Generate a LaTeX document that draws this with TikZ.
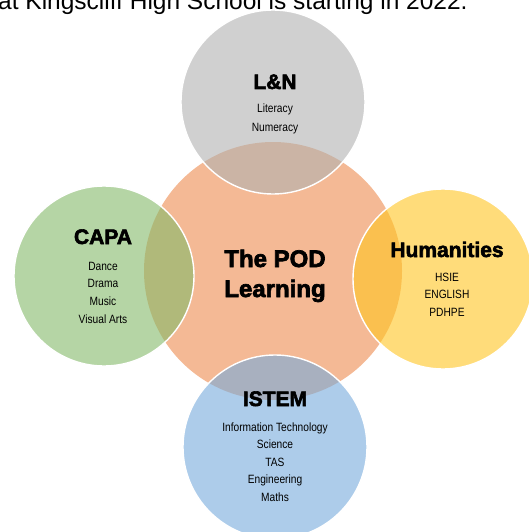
\documentclass[tikz,border=0pt]{standalone}
\usepackage{fontspec}
\setmainfont{Liberation Sans}
\newfontfamily\itemfont[FakeStretch=0.85]{Liberation Sans}
\newfontfamily\headfont[UprightFont={* Bold}, FakeBold=2.8]{Liberation Sans}
\definecolor{podorange}{RGB}{244,185,149}
\definecolor{lngray}{RGB}{177,177,177}
\definecolor{capagreen}{RGB}{132,185,105}
\definecolor{humyellow}{RGB}{255,197,33}
\definecolor{istemblue}{RGB}{118,170,220}
\tikzset{
  core/.style={circle, draw=none, inner sep=0pt, fill=podorange},
  outer/.style={circle, draw=white, line width=1.4pt, fill opacity=0.6, inner sep=0pt},
  head/.style={anchor=base, inner sep=0pt, font=\headfont\fontsize{21}{25}\selectfont},
  item/.style={anchor=base, inner sep=0pt, font=\itemfont\fontsize{12}{14}\selectfont},
}
\begin{document}
\begin{tikzpicture}[x=1pt,y=-1pt]
\useasboundingbox (0,0) rectangle (529,532);
\clip (0,0) rectangle (529,532);
% top caption (cut by the page edge)
\node[anchor=base west, inner sep=0pt, font=\fontsize{24.5}{28}\selectfont] (caption) at (-2,10) {at Kingscliff High School is starting in 2022.};
% circles
\node[core, minimum size=258pt] (pod) at (273,271) {};
\node[outer, fill=lngray, minimum size=184pt] (ln) at (273,102) {};
\node[outer, fill=capagreen, minimum size=180pt] (capa) at (104,276) {};
\node[outer, fill=humyellow, minimum size=180pt] (hum) at (443,279) {};
\node[outer, fill=istemblue, minimum size=184pt] (istem) at (275,447) {};
% centre text
\node[head, font=\headfont\fontsize{24}{28}\selectfont] (podt1) at (275,267) {The POD};
\node[head, font=\headfont\fontsize{24}{28}\selectfont] (podt2) at (275,297) {Learning};
% L&N
\node[head] (lnt) at (275,89) {L\&N};
\foreach \t [count=\i] in {Literacy,Numeracy}
  \node[item] (ln-\i) at (275,{113+18*(\i-1)}) {\t};
% CAPA
\node[head] (capat) at (103,244) {CAPA};
\foreach \t [count=\i] in {Dance,Drama,Music,Visual Arts}
  \node[item] (capa-\i) at (103,{270+17.7*(\i-1)}) {\t};
% Humanities
\node[head] (humt) at (447,257) {Humanities};
\foreach \t [count=\i] in {HSIE,ENGLISH,PDHPE}
  \node[item] (hum-\i) at (447,{281+17.5*(\i-1)}) {\t};
% ISTEM
\node[head] (istemt) at (275,406) {ISTEM};
\foreach \t [count=\i] in {Information Technology,Science,TAS,Engineering,Maths}
  \node[item] (istem-\i) at (275,{431+17.5*(\i-1)}) {\t};
\end{tikzpicture}
\end{document}
